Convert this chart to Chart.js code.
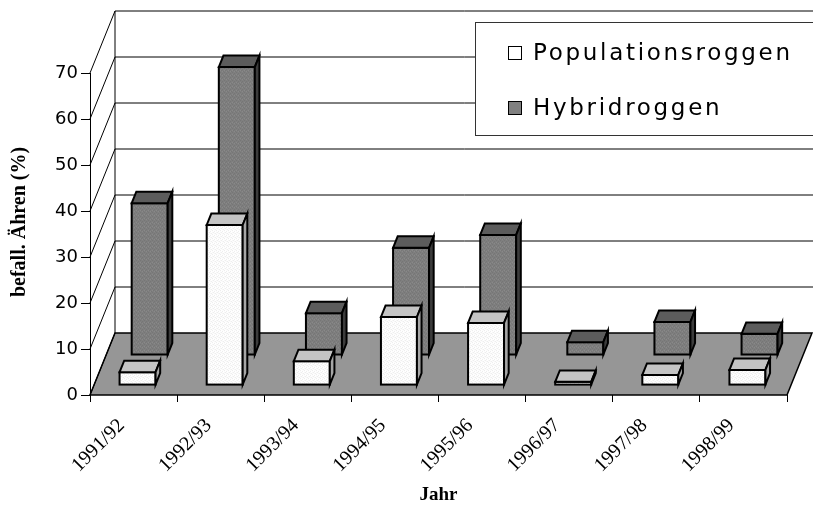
<!DOCTYPE html>
<html>
<head>
<meta charset="utf-8">
<script src="https://cdn.jsdelivr.net/npm/chart.js@4.4.1/dist/chart.umd.min.js"></script>
<style>
  html, body { margin: 0; padding: 0; background: #ffffff; }
  #wrap { width: 813px; height: 509px; position: relative; }
</style>
</head>
<body>
<div id="wrap"><canvas id="chart"></canvas></div>
<script>
// Anteil befallener Ähren je Saison (%)
const seasons = ['1991/92', '1992/93', '1993/94', '1994/95', '1995/96', '1996/97', '1997/98', '1998/99'];
const populationsroggen = [2.8, 34.8, 5.2, 14.8, 13.5, 0.7, 2.2, 3.3];
const hybridroggen = [33.0, 62.6, 9.1, 23.3, 26.1, 2.8, 7.2, 4.6];
const seriesNames = ['Populationsroggen', 'Hybridroggen'];
const yTickValues = [0, 10, 20, 30, 40, 50, 60, 70];
const yTitle = 'befall. Ähren (%)';
const xTitle = 'Jahr';

// oblique projection of the 3-D box: offset from the front plane to the back wall
const DEPTH = { dx: 25, dy: -62 };
// depth position of each series row (fraction of full depth) and bar thickness
const ROW_DEPTH = [0.16, 0.645];
const BAR_DEPTH = 0.185;

function texture(base, spot, spot2) {
  const c = document.createElement('canvas');
  c.width = 4; c.height = 4;
  const g = c.getContext('2d');
  g.fillStyle = base; g.fillRect(0, 0, 4, 4);
  g.fillStyle = spot;
  [[0, 0], [2, 1], [1, 2], [3, 3]].forEach(([x, y]) => g.fillRect(x, y, 1, 1));
  g.fillStyle = spot2;
  [[2, 3], [0, 2]].forEach(([x, y]) => g.fillRect(x, y, 1, 1));
  return g.createPattern(c, 'repeat');
}

const faceStyles = [
  { front: texture('#ffffff', '#ececec', '#f6f6f6'), top: '#c4c4c4', side: '#a6a6a6', swatch: '#ffffff' },
  { front: texture('#808080', '#747474', '#8c8c8c'), top: '#5c5c5c', side: '#3c3c3c', swatch: '#808080' }
];

const box3d = {
  id: 'box3d',
  beforeDatasetsDraw(chart) {
    const { ctx, chartArea: a, scales: { y } } = chart;
    const y0 = y.getPixelForValue(0);
    const yTop = y.getPixelForValue(y.max);
    ctx.save();
    ctx.strokeStyle = '#000000';
    // floor
    ctx.beginPath();
    ctx.moveTo(a.left, y0);
    ctx.lineTo(a.right, y0);
    ctx.lineTo(a.right + DEPTH.dx, y0 + DEPTH.dy);
    ctx.lineTo(a.left + DEPTH.dx, y0 + DEPTH.dy);
    ctx.closePath();
    ctx.fillStyle = '#969696';
    ctx.fill();
    ctx.lineWidth = 1.5;
    ctx.stroke();
    // side wall diagonals and back wall gridlines
    ctx.lineWidth = 1;
    y.ticks.forEach(t => {
      const py = y.getPixelForValue(t.value);
      ctx.beginPath();
      ctx.moveTo(a.left, py);
      ctx.lineTo(a.left + DEPTH.dx, py + DEPTH.dy);
      if (t.value > 0) ctx.lineTo(a.right + DEPTH.dx + 2, py + DEPTH.dy);
      ctx.stroke();
    });
    // back wall left edge
    ctx.beginPath();
    ctx.moveTo(a.left + DEPTH.dx, yTop + DEPTH.dy);
    ctx.lineTo(a.left + DEPTH.dx, y0 + DEPTH.dy);
    ctx.stroke();
    ctx.restore();
  },
  beforeDatasetDraw(chart, args) {
    const f = ROW_DEPTH[args.index];
    chart.ctx.save();
    chart.ctx.translate(DEPTH.dx * f, DEPTH.dy * f);
  },
  afterDatasetDraw(chart, args) {
    const ctx = chart.ctx;
    const st = faceStyles[args.index];
    const ddx = DEPTH.dx * BAR_DEPTH, ddy = DEPTH.dy * BAR_DEPTH;
    ctx.lineWidth = 2;
    ctx.strokeStyle = '#000000';
    ctx.lineJoin = 'miter';
    args.meta.data.forEach(bar => {
      const { x, y, base, width } = bar.getProps(['x', 'y', 'base', 'width'], true);
      const l = x - width / 2, r = x + width / 2;
      // front outline
      ctx.strokeRect(l, y, width, base - y);
      // top face
      ctx.beginPath();
      ctx.moveTo(l, y);
      ctx.lineTo(l + ddx, y + ddy);
      ctx.lineTo(r + ddx, y + ddy);
      ctx.lineTo(r, y);
      ctx.closePath();
      ctx.fillStyle = st.top;
      ctx.fill();
      ctx.stroke();
      // side face
      ctx.beginPath();
      ctx.moveTo(r, y);
      ctx.lineTo(r + ddx, y + ddy);
      ctx.lineTo(r + ddx, base + ddy);
      ctx.lineTo(r, base);
      ctx.closePath();
      ctx.fillStyle = st.side;
      ctx.fill();
      ctx.stroke();
    });
    ctx.restore();
  },
  afterDraw(chart) {
    const ctx = chart.ctx;
    ctx.save();
    // vertical axis title
    ctx.translate(20, 222);
    ctx.rotate(-Math.PI / 2);
    ctx.font = 'bold 20px "Liberation Serif"';
    ctx.fillStyle = '#000000';
    ctx.textAlign = 'center';
    ctx.textBaseline = 'middle';
    ctx.fillText(yTitle, 0, 0);
    ctx.restore();

    // legend box
    const lx = 475, ly = 22, lh = 113;
    ctx.save();
    ctx.fillStyle = '#ffffff';
    ctx.fillRect(lx, ly, chart.width - lx + 2, lh);
    ctx.strokeStyle = '#333333';
    ctx.lineWidth = 1;
    ctx.strokeRect(lx + 0.5, ly + 0.5, chart.width - lx + 2, lh);
    ctx.font = '23px "DejaVu Sans"';
    if ('letterSpacing' in ctx) ctx.letterSpacing = '2.7px';
    ctx.textBaseline = 'alphabetic';
    ctx.textAlign = 'left';
    chart.data.datasets.forEach((ds, i) => {
      const rowY = 60 + i * 55;
      ctx.fillStyle = faceStyles[i].swatch;
      ctx.fillRect(508, rowY - 14, 14, 14);
      ctx.strokeStyle = '#000000';
      ctx.strokeRect(508.5, rowY - 13.5, 13, 13);
      ctx.fillStyle = '#000000';
      ctx.fillText(ds.label, 533, rowY);
    });
    ctx.restore();
  }
};

new Chart(document.getElementById('chart'), {
  type: 'bar',
  data: {
    labels: seasons,
    datasets: [
      { label: seriesNames[0], data: populationsroggen, backgroundColor: faceStyles[0].front },
      { label: seriesNames[1], data: hybridroggen, backgroundColor: faceStyles[1].front }
    ]
  },
  options: {
    responsive: true,
    maintainAspectRatio: false,
    animation: false,
    devicePixelRatio: 1,
    layout: { padding: { top: 73, right: 26, left: 0, bottom: 0 } },
    datasets: {
      bar: {
        grouped: false,
        barPercentage: 0.413,
        categoryPercentage: 1,
        borderWidth: 0,
        clip: false
      }
    },
    plugins: {
      legend: { display: false },
      tooltip: { enabled: false }
    },
    scales: {
      x: {
        type: 'category',
        afterFit(scale) { scale.height = 114; },
        grid: {
          offset: true,
          drawOnChartArea: false,
          drawTicks: true,
          tickLength: 7,
          color: '#000000',
          lineWidth: 1
        },
        border: { display: false },
        ticks: {
          color: '#000000',
          font: { family: '"Liberation Serif"', size: 20 },
          minRotation: 45,
          maxRotation: 45,
          autoSkip: false,
          labelOffset: -12,
          padding: 12
        },
        title: {
          display: true,
          text: xTitle,
          color: '#000000',
          font: { family: '"Liberation Serif"', size: 19, weight: 'bold' },
          padding: { top: 0, bottom: 3 }
        }
      },
      y: {
        min: 0,
        max: 70,
        afterFit(scale) { scale.width = 90; },
        afterBuildTicks(scale) { scale.ticks = yTickValues.map(v => ({ value: v })); },
        grid: {
          drawOnChartArea: false,
          drawTicks: true,
          tickLength: 9,
          color: '#000000',
          lineWidth: 1
        },
        border: { display: true, color: '#000000', width: 1 },
        ticks: {
          color: '#000000',
          font: { family: '"DejaVu Sans"', size: 18 },
          padding: 3
        },
        title: { display: false }
      }
    }
  },
  plugins: [box3d]
});
</script>
</body>
</html>
